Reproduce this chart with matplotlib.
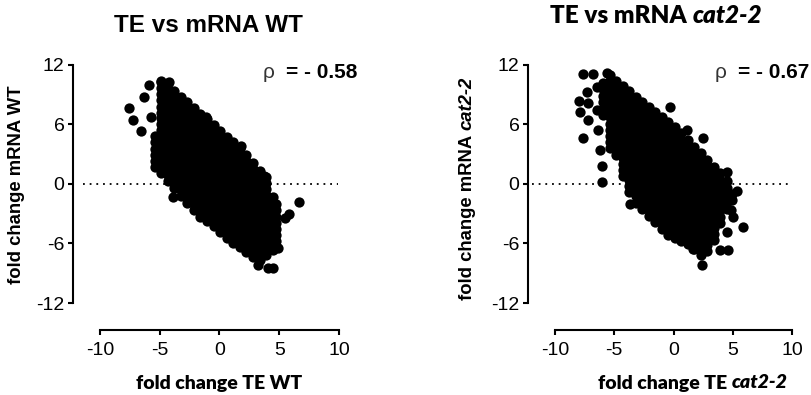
import matplotlib.pyplot as plt

plt.rcParams['axes.unicode_minus'] = False

# ---- data (blob columns + loose points) ----
wt_cols_te = [-5.4, -4.9, -4.35, -3.8, -3.25, -2.7, -2.15, -1.6, -1.05, -0.5,
              0.05, 0.6, 1.15, 1.7, 2.25, 2.8, 3.35, 3.9, 4.45, 4.75]
wt_cols_mrna = [
    [1.7, 2.3, 2.9, 3.5, 4.2, 4.8],
    [1.1, 1.7, 2.3, 2.9, 3.5, 4.1, 4.8, 5.4, 6.0, 6.6, 7.2, 7.8, 8.5, 9.1, 9.7, 10.3],
    [0.3, 0.9, 1.5, 2.2, 2.8, 3.4, 4.0, 4.6, 5.3, 5.9, 6.5, 7.1, 7.7, 8.4, 9.0, 9.6, 10.2],
    [-0.4, 0.2, 0.8, 1.4, 2.0, 2.6, 3.2, 3.9, 4.5, 5.1, 5.7, 6.3, 7.0, 7.6, 8.2, 8.8, 9.4],
    [-1.2, -0.6, 0.05, 0.7, 1.3, 1.9, 2.55, 3.2, 3.8, 4.4, 5.05, 5.7, 6.3, 6.9, 7.55, 8.2, 8.8],
    [-1.95, -1.3, -0.7, -0.05, 0.6, 1.2, 1.85, 2.5, 3.15, 3.75, 4.4, 5.0, 5.7, 6.3, 6.95, 7.6, 8.25],
    [-2.65, -2.05, -1.45, -0.85, -0.2, 0.4, 1.0, 1.6, 2.2, 2.8, 3.4, 4.0, 4.6, 5.2, 5.8, 6.45, 7.05, 7.65],
    [-3.3, -2.7, -2.1, -1.45, -0.85, -0.25, 0.35, 0.95, 1.6, 2.2, 2.8, 3.4, 4.0, 4.6, 5.25, 5.85, 6.45, 7.1],
    [-3.75, -3.15, -2.55, -1.95, -1.35, -0.75, -0.15, 0.45, 1.05, 1.65, 2.25, 2.9, 3.5, 4.1, 4.7, 5.3, 5.9, 6.5],
    [-4.25, -3.65, -3.05, -2.45, -1.85, -1.25, -0.65, -0.05, 0.55, 1.15, 1.75, 2.3, 2.9, 3.5, 4.1, 4.7, 5.3, 5.9],
    [-4.85, -4.25, -3.65, -3.05, -2.45, -1.85, -1.25, -0.6, 0.0, 0.6, 1.2, 1.8, 2.4, 3.0, 3.6, 4.15, 4.75, 5.35],
    [-5.45, -4.85, -4.25, -3.65, -3.05, -2.45, -1.85, -1.25, -0.6, 0.0, 0.6, 1.2, 1.8, 2.4, 3.0, 3.6, 4.15, 4.75],
    [-5.95, -5.35, -4.75, -4.15, -3.55, -2.95, -2.35, -1.75, -1.15, -0.55, 0.05, 0.65, 1.25, 1.8, 2.4, 3.0, 3.6, 4.2],
    [-6.4, -5.8, -5.15, -4.5, -3.9, -3.25, -2.65, -2.0, -1.4, -0.75, -0.15, 0.5, 1.1, 1.75, 2.35, 3.0, 3.6],
    [-6.85, -6.25, -5.6, -5.0, -4.4, -3.8, -3.2, -2.6, -1.95, -1.35, -0.75, -0.15, 0.5, 1.1, 1.7, 2.3, 2.95],
    [-7.35, -6.7, -6.1, -5.45, -4.8, -4.2, -3.55, -2.9, -2.3, -1.65, -1.0, -0.4, 0.25, 0.9, 1.5, 2.15],
    [-7.65, -7.05, -6.45, -5.85, -5.25, -4.65, -4.05, -3.45, -2.85, -2.25, -1.65, -1.05, -0.45, 0.15, 0.75, 1.35],
    [-7.2, -6.6, -6.0, -5.4, -4.75, -4.15, -3.55, -2.95, -2.35, -1.75, -1.15, -0.5, 0.1, 0.7],
    [-6.65, -6.05, -5.45, -4.85, -4.25, -3.65, -3.1, -2.5, -1.9, -1.3],
    [-6.3, -5.7, -5.1, -4.5, -3.9, -3.3, -2.6, -2.0],
]
wt_out_te = [-7.6, -7.25, -6.6, -6.3, -5.9, -5.75, -4.9, -4.25, -3.85,
             6.65, 5.8, 5.45, 4.1, 4.5, 3.2, -1.1, 1.8, 3.7, 4.9]
wt_out_mrna = [7.7, 6.45, 5.35, 8.8, 10.0, 6.75, 10.4, 10.3, -1.35,
               -1.8, -3.0, -3.4, -8.5, -8.5, -8.2, 6.8, 3.8, 0.8, -6.5]

cat_cols_te = [-5.95, -5.4, -4.85, -4.3, -3.75, -3.2, -2.65, -2.1, -1.55, -1.0,
               -0.45, 0.1, 0.65, 1.2, 1.75, 2.3, 2.85, 3.4, 3.95, 4.5, 4.95]
cat_cols_mrna = [
    [7.0, 7.6, 8.3, 8.9, 9.6, 10.2],
    [3.6, 4.2, 4.8, 5.45, 6.05, 6.7, 7.3, 7.9, 8.55, 9.15, 9.8, 10.4, 11.0],
    [2.9, 3.5, 4.15, 4.8, 5.4, 6.0, 6.65, 7.3, 7.9, 8.5, 9.15, 9.8, 10.4],
    [0.85, 1.45, 2.05, 2.65, 3.25, 3.85, 4.45, 5.05, 5.65, 6.25, 6.85, 7.45, 8.05, 8.65, 9.25, 9.85],
    [-0.8, -0.2, 0.4, 1.0, 1.6, 2.2, 2.8, 3.35, 3.95, 4.55, 5.15, 5.75, 6.35, 6.95, 7.55, 8.15, 8.75, 9.35],
    [-1.9, -1.25, -0.65, 0.0, 0.6, 1.25, 1.9, 2.5, 3.15, 3.75, 4.4, 5.05, 5.65, 6.3, 6.9, 7.55, 8.15, 8.8],
    [-2.55, -1.95, -1.35, -0.75, -0.15, 0.45, 1.05, 1.65, 2.25, 2.85, 3.45, 4.05, 4.65, 5.25, 5.85, 6.5, 7.1, 7.7, 8.3],
    [-3.2, -2.6, -2.0, -1.35, -0.75, -0.15, 0.45, 1.1, 1.7, 2.3, 2.9, 3.5, 4.15, 4.75, 5.35, 5.95, 6.6, 7.2, 7.8],
    [-3.85, -3.25, -2.6, -2.0, -1.4, -0.75, -0.15, 0.45, 1.1, 1.7, 2.3, 2.95, 3.55, 4.15, 4.8, 5.4, 6.0, 6.65, 7.25],
    [-4.5, -3.9, -3.25, -2.6, -2.0, -1.4, -0.75, -0.1, 0.5, 1.1, 1.75, 2.4, 3.0, 3.6, 4.25, 4.9, 5.5, 6.1, 6.75],
    [-5.1, -4.45, -3.85, -3.2, -2.6, -1.95, -1.3, -0.7, -0.05, 0.6, 1.2, 1.85, 2.45, 3.1, 3.7, 4.35, 5.0, 5.6, 6.25],
    [-5.45, -4.85, -4.2, -3.6, -2.95, -2.35, -1.7, -1.1, -0.5, 0.15, 0.75, 1.4, 2.0, 2.6, 3.25, 3.85, 4.5, 5.1, 5.75],
    [-5.7, -5.05, -4.45, -3.8, -3.15, -2.5, -1.9, -1.25, -0.6, 0.0, 0.65, 1.3, 1.9, 2.55, 3.2, 3.8, 4.45, 5.1],
    [-6.05, -5.45, -4.8, -4.2, -3.6, -2.95, -2.35, -1.7, -1.1, -0.5, 0.15, 0.75, 1.35, 2.0, 2.6, 3.2, 3.85, 4.45],
    [-6.55, -5.95, -5.35, -4.75, -4.1, -3.5, -2.9, -2.3, -1.7, -1.1, -0.5, 0.1, 0.7, 1.35, 1.95, 2.55, 3.15, 3.75],
    [-7.2, -6.6, -6.0, -5.4, -4.75, -4.15, -3.55, -2.95, -2.35, -1.75, -1.15, -0.55, 0.05, 0.65, 1.3, 1.9, 2.5, 3.1],
    [-6.75, -6.15, -5.5, -4.9, -4.3, -3.7, -3.05, -2.45, -1.85, -1.25, -0.6, 0.0, 0.6, 1.2, 1.85, 2.45],
    [-5.6, -5.0, -4.4, -3.75, -3.15, -2.55, -1.95, -1.3, -0.7, -0.1, 0.5, 1.15, 1.75],
    [-3.9, -3.3, -2.65, -2.05, -1.4, -0.8, -0.15, 0.45, 1.1],
    [-2.5, -1.8, -1.1, -0.4, 0.3],
    [-1.6, -1.0],
]
cat_out_te = [-7.64, -6.8, -7.3, -7.97, -7.2, -7.9, -7.2, -7.6, -6.4, -6.2, -6.0, -6.0,
              -5.6, -6.45, -6.45, -3.7, -0.3, 1.1, 2.5, 4.5, 5.35, 5.9, 4.5, 3.9, 4.6,
              2.4, 5.0, 4.85, 1.65]
cat_out_mrna = [11.1, 11.1, 9.3, 8.4, 8.2, 7.3, 6.45, 4.6, 5.4, 3.4, 1.8, 0.2,
                11.2, 9.8, 7.5, -2.0, 7.75, 5.45, 4.6, 1.2, -0.75, -4.3, -4.8, -6.65, -6.65,
                -8.2, -3.3, -2.6, -6.6]

x_ticks = [-10, -5, 0, 5, 10]
y_ticks = [-12, -6, 0, 6, 12]
rho_wt = "= - 0.58"
rho_cat = "= - 0.67"

ARIAL = 'Liberation Sans'
CALIBRI = 'Lato'


def flatten(cols_x, cols_y):
    xs, ys = [], []
    for cx, col in zip(cols_x, cols_y):
        xs += [cx] * len(col)
        ys += col
    return xs, ys


def style_axes(ax, xlim, zero_span):
    ax.set_xlim(*xlim)
    ax.set_ylim(-14.72, 13.0)
    for side in ['top', 'right']:
        ax.spines[side].set_visible(False)
    ax.spines['left'].set_bounds(-12, 12)
    ax.spines['bottom'].set_bounds(-10, 10)
    for side in ['left', 'bottom']:
        ax.spines[side].set_linewidth(1.5)
    ax.set_xticks(x_ticks)
    ax.set_yticks(y_ticks)
    ax.tick_params(axis='both', direction='out', length=3.6, width=1.5,
                   labelsize=14, colors='black')
    ax.tick_params(axis='x', pad=5)
    ax.tick_params(axis='y', pad=2.5)
    for lab in ax.get_xticklabels() + ax.get_yticklabels():
        lab.set_fontfamily(ARIAL)
    ax.hlines(0, zero_span[0], zero_span[1], colors='black',
              linestyles=(0, (1, 2.7)), linewidth=1.3, zorder=1)
    ax.patch.set_visible(False)


fig = plt.figure(figsize=(8.11, 3.95), dpi=100)

# left panel: WT
ax1 = fig.add_axes([73 / 811, 65 / 395, 287 / 811, 275 / 395])
style_axes(ax1, (-12.26, 11.76), (-11.46, 9.96))
x, y = flatten(wt_cols_te, wt_cols_mrna)
ax1.scatter(x + wt_out_te, y + wt_out_mrna, s=55, c='black', linewidths=0, zorder=3)

# right panel: cat2-2
ax2 = fig.add_axes([528 / 811, 65 / 395, 283 / 811, 275 / 395])
style_axes(ax2, (-12.28, 11.6), (-11.94, 9.83))
x, y = flatten(cat_cols_te, cat_cols_mrna)
ax2.scatter(x + cat_out_te, y + cat_out_mrna, s=55, c='black', linewidths=0, zorder=3)

# rho annotations
fig.text(263 / 811, 1 - 72 / 395, "ρ", fontsize=15, family=ARIAL, color='#333333',
         ha='left', va='center')
fig.text(357 / 811, 1 - 72 / 395, rho_wt, fontsize=15, family=ARIAL,
         fontweight='bold', ha='right', va='center')
fig.text(715 / 811, 1 - 72 / 395, "ρ", fontsize=15, family=ARIAL, color='#333333',
         ha='left', va='center')
fig.text(809 / 811, 1 - 72 / 395, rho_cat, fontsize=15, family=ARIAL,
         fontweight='bold', ha='right', va='center')

# titles
fig.text(208 / 811, 1 - 25 / 395, "TE vs mRNA WT", fontsize=17.5, family=ARIAL,
         fontweight='bold', ha='center', va='center')
t = fig.text(550 / 811, 1 - 16 / 395, "TE vs mRNA ", fontsize=17.5, family=CALIBRI,
             fontweight='heavy', ha='left', va='center')
ax2.annotate("cat2-2", xy=(1, 0), xycoords=t, fontsize=17.5, family=CALIBRI,
             fontweight='heavy', style='italic', ha='left', va='bottom',
             annotation_clip=False)

# y labels
fig.text(17 / 811, 1 - 185 / 395, "fold change mRNA WT", fontsize=13.3, family=ARIAL,
         fontweight='bold', rotation=90, ha='center', va='center')
t = fig.text(467 / 811, 95 / 395, "fold change mRNA ", fontsize=13.3, family=ARIAL,
             fontweight='bold', rotation=90, ha='center', va='bottom')
ax2.annotate("cat2-2", xy=(0.5, 1), xycoords=t, fontsize=13.3, family=ARIAL,
             fontweight='bold', style='italic', rotation=90, ha='center', va='bottom',
             annotation_clip=False)

# x labels
fig.text(219 / 811, 1 - 383 / 395, "fold change TE WT", fontsize=14, family=CALIBRI,
         fontweight='heavy', ha='center', va='center')
t = fig.text(598 / 811, 1 - 383 / 395, "fold change TE ", fontsize=14, family=CALIBRI,
             fontweight='heavy', ha='left', va='center')
ax2.annotate("cat2-2", xy=(1, 0), xycoords=t, fontsize=14, family=CALIBRI,
             fontweight='heavy', style='italic', ha='left', va='bottom',
             annotation_clip=False)

fig.savefig("out.png", dpi=100)
